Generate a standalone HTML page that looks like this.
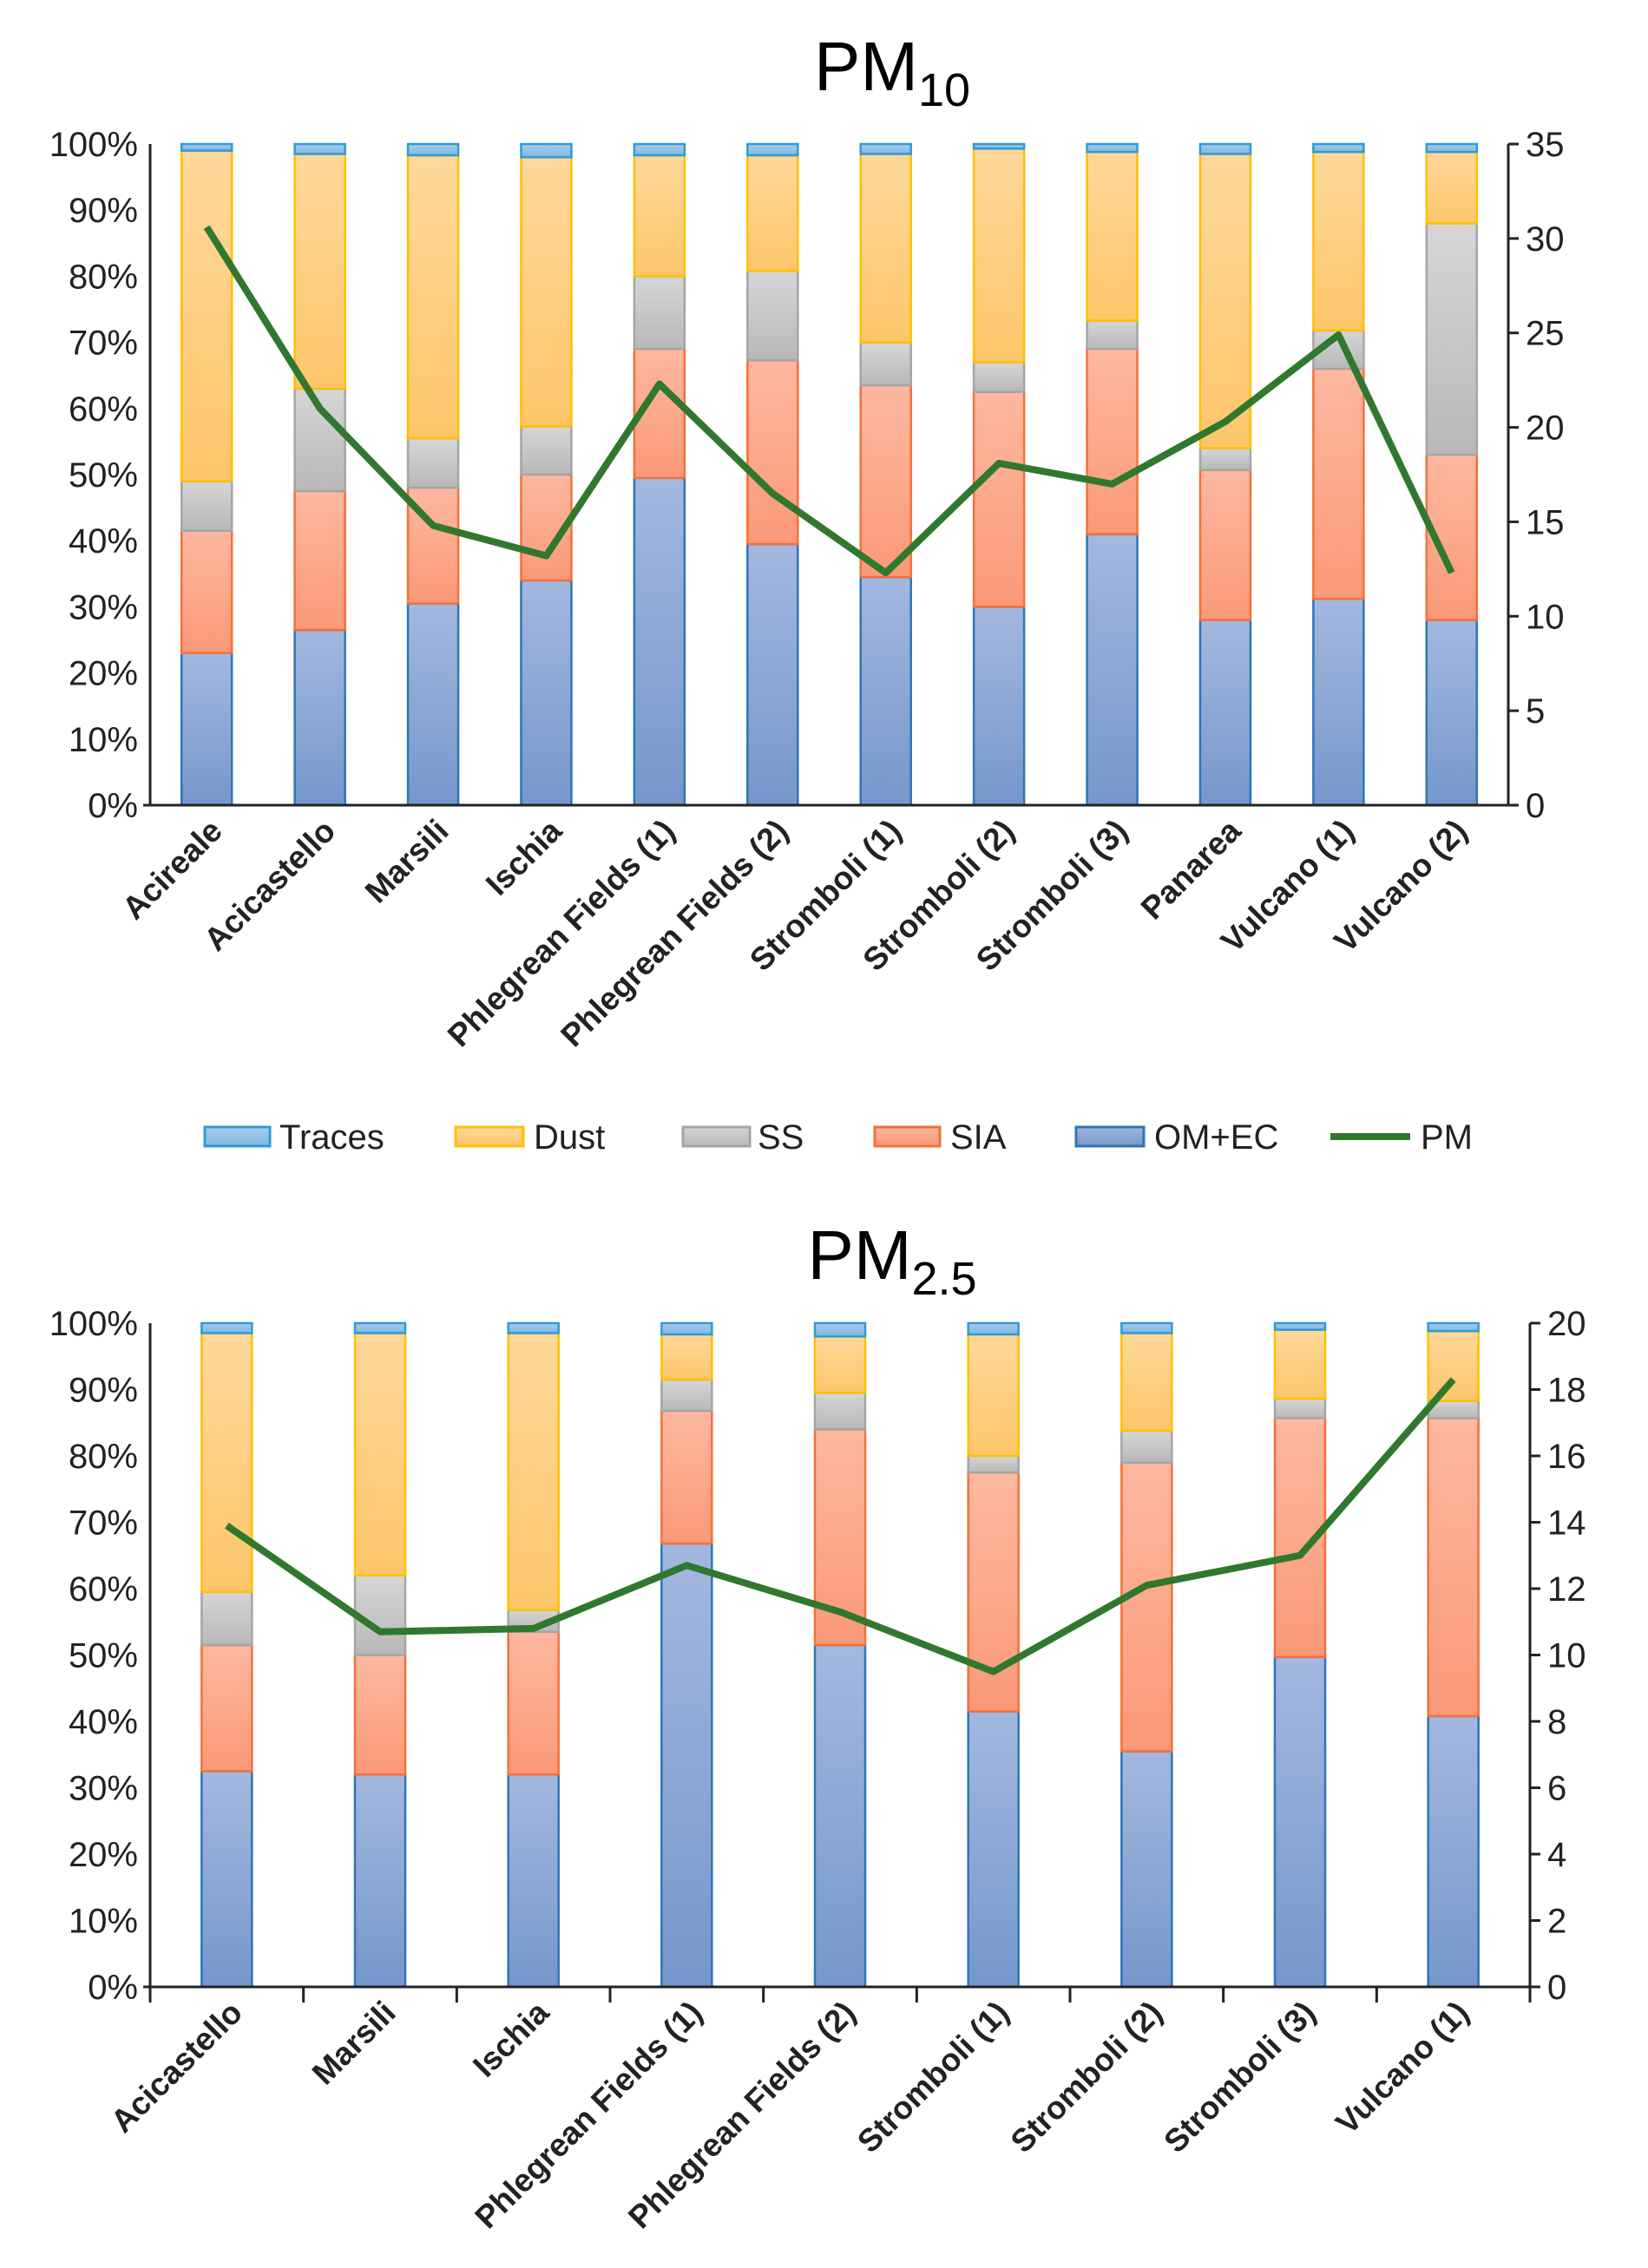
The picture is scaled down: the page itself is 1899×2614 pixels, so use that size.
<!DOCTYPE html>
<html><head><meta charset="utf-8">
<style>
html,body{margin:0;padding:0;background:#fff;}
svg{display:block;font-family:"Liberation Sans",sans-serif;}
</style></head>
<body>
<svg id="svg" xmlns="http://www.w3.org/2000/svg" width="1899" height="2614" viewBox="0 0 1899 2614">
<defs>
<linearGradient id="gOM" x1="0" y1="0" x2="0" y2="1"><stop offset="0" stop-color="#a3b8df"/><stop offset="1" stop-color="#7597cb"/></linearGradient>
<linearGradient id="gSIA" x1="0" y1="0" x2="0" y2="1"><stop offset="0" stop-color="#fdb8a0"/><stop offset="1" stop-color="#fa9978"/></linearGradient>
<linearGradient id="gSS" x1="0" y1="0" x2="0" y2="1"><stop offset="0" stop-color="#d6d6d6"/><stop offset="1" stop-color="#b8b8b8"/></linearGradient>
<linearGradient id="gDust" x1="0" y1="0" x2="0" y2="1"><stop offset="0" stop-color="#fed89a"/><stop offset="1" stop-color="#fdc66a"/></linearGradient>
<linearGradient id="gTr" x1="0" y1="0" x2="0" y2="1"><stop offset="0" stop-color="#a8cdec"/><stop offset="1" stop-color="#7fb6e2"/></linearGradient>
</defs>
<text x="1028" y="104" text-anchor="middle" font-size="80">PM<tspan font-size="54" dy="18">10</tspan></text>
<text x="1028" y="1474" text-anchor="middle" font-size="80">PM<tspan font-size="54" dy="18">2.5</tspan></text>
<g id="top"></g>
<g id="bot"></g>
<g font-size="40" fill="#222">
  <g><rect x="236" y="1299" width="75" height="22" fill="url(#gTr)" stroke="#2e9bd6" stroke-width="3"/><text x="322" y="1324">Traces</text></g>
  <g><rect x="525" y="1299" width="78" height="22" fill="url(#gDust)" stroke="#ffc000" stroke-width="3"/><text x="615" y="1324">Dust</text></g>
  <g><rect x="787" y="1299" width="77" height="22" fill="url(#gSS)" stroke="#a5a5a5" stroke-width="3"/><text x="873" y="1324">SS</text></g>
  <g><rect x="1008" y="1299" width="75" height="22" fill="url(#gSIA)" stroke="#f4703a" stroke-width="3"/><text x="1095" y="1324">SIA</text></g>
  <g><rect x="1240" y="1299" width="78" height="22" fill="url(#gOM)" stroke="#2e75b6" stroke-width="3"/><text x="1330" y="1324">OM+EC</text></g>
  <g><line x1="1533" y1="1310" x2="1625" y2="1310" stroke="#31782f" stroke-width="8"/><text x="1637" y="1324">PM</text></g>
</g>
</svg>
<script>
const pm10Cats = ["Acireale","Acicastello","Marsili","Ischia","Phlegrean Fields (1)","Phlegrean Fields (2)","Stromboli (1)","Stromboli (2)","Stromboli (3)","Panarea","Vulcano (1)","Vulcano (2)"];
const pm10OM   = [23,26.5,30.5,34,49.5,39.5,34.5,30,41,28,31.2,28];
const pm10SIA  = [18.5,21,17.5,16,19.5,27.8,29,32.5,28,22.7,34.8,25];
const pm10SS   = [7.5,15.5,7.5,7.3,11,13.5,6.5,4.5,4.3,3.3,5.8,35];
const pm10Dust = [50,35.5,42.8,40.7,18.3,17.5,28.5,32.3,25.5,44.5,27,10.8];
const pm10PM   = [30.6,21,14.8,13.2,22.3,16.5,12.3,18.1,17,20.3,24.9,12.3];
const pm10RightTicks = [0,5,10,15,20,25,30,35];

const pm25Cats = ["Acicastello","Marsili","Ischia","Phlegrean Fields (1)","Phlegrean Fields (2)","Stromboli (1)","Stromboli (2)","Stromboli (3)","Vulcano (1)"];
const pm25OM   = [32.5,32,32,66.8,51.5,41.5,35.5,49.7,40.8];
const pm25SIA  = [19,18,21.5,20,32.5,36,43.5,36,44.9];
const pm25SS   = [8,12,3.3,4.7,5.5,2.5,4.8,2.9,2.6];
const pm25Dust = [39,36.5,41.7,6.8,8.5,18.3,14.7,10.4,10.5];
const pm25PM   = [13.9,10.7,10.8,12.7,11.3,9.5,12.1,13,18.3];
const pm25RightTicks = [0,2,4,6,8,10,12,14,16,18,20];

const pctTicks = [0,10,20,30,40,50,60,70,80,90,100];
const NS="http://www.w3.org/2000/svg";
function mk(tag,attrs,parent){const e=document.createElementNS(NS,tag);for(const k in attrs)e.setAttribute(k,attrs[k]);parent.appendChild(e);return e;}

function chart(g,cfg){
  const {L,R,T,B,cats,om,sia,ss,dust,pm,rmax,rticks,catTicks}=cfg;
  const n=cats.length, step=(R-L)/n, bw=58;
  const y=v=>B-(B-T)*v/100;
  const yr=v=>B-(B-T)*v/rmax;
  const xc=i=>L+step*(i+0.5);
  pctTicks.forEach(t=>{
    const tx=mk('text',{x:L-14,y:y(t)+14,'text-anchor':'end','font-size':40,fill:'#222'},g);
    tx.textContent=t+'%';
    
    
  });
  rticks.forEach(t=>{
    const ln=mk('line',{x1:R,x2:R+12,y1:yr(t),y2:yr(t),stroke:'#222','stroke-width':3},g);
    
    
    const tx=mk('text',{x:R+20,y:yr(t)+14,'font-size':40,fill:'#222'},g);
    tx.textContent=t;
    
    
  });
  const series=[[om,'url(#gOM)','#2e75b6','om-ec'],[sia,'url(#gSIA)','#f4703a','sia'],[ss,'url(#gSS)','#a5a5a5','ss'],[dust,'url(#gDust)','#ffc000','dust']];
  for(let i=0;i<n;i++){
    let acc=0;
    series.forEach(s=>{
      const v=s[0][i];
      const r=mk('rect',{x:xc(i)-bw/2,y:y(acc+v),width:bw,height:y(acc)-y(acc+v),fill:s[1],stroke:s[2],'stroke-width':2.5},g);
      
      
      acc+=v;
    });
    const r=mk('rect',{x:xc(i)-bw/2,y:y(100),width:bw,height:y(acc)-y(100),fill:'url(#gTr)',stroke:'#2e9bd6','stroke-width':2.5},g);
    
    
    const lab=mk('text',{transform:`translate(${xc(i)+20},${B+32}) rotate(-45)`,'text-anchor':'end','font-size':37,'font-weight':'bold',fill:'#222'},g);
    lab.textContent=cats[i];
    
    
  }
  if(catTicks){
    for(let i=0;i<=n;i++){
      const ln=mk('line',{x1:L+step*i,x2:L+step*i,y1:B,y2:B+18,stroke:'#222','stroke-width':3},g);
      
      
    }
  }
  const la=mk('line',{x1:L,x2:L,y1:T,y2:B,stroke:'#222','stroke-width':3},g);
  
  
  const ra=mk('line',{x1:R,x2:R,y1:T,y2:B,stroke:'#222','stroke-width':3},g);
  
  
  const xa=mk('line',{x1:L-8,x2:R,y1:B,y2:B,stroke:'#222','stroke-width':3},g);
  
  
  const pts=pm.map((v,i)=>xc(i)+','+yr(v)).join(' ');
  const pl=mk('polyline',{points:pts,fill:'none',stroke:'#31782f','stroke-width':8,'stroke-linejoin':'round'},g);
  
  
}
chart(document.getElementById('top'),{L:173,R:1738,T:166,B:928,cats:pm10Cats,om:pm10OM,sia:pm10SIA,ss:pm10SS,dust:pm10Dust,pm:pm10PM,rmax:35,rticks:pm10RightTicks,catTicks:false});
chart(document.getElementById('bot'),{L:173,R:1763,T:1525,B:2290,cats:pm25Cats,om:pm25OM,sia:pm25SIA,ss:pm25SS,dust:pm25Dust,pm:pm25PM,rmax:20,rticks:pm25RightTicks,catTicks:true});
</script>
</body></html>
